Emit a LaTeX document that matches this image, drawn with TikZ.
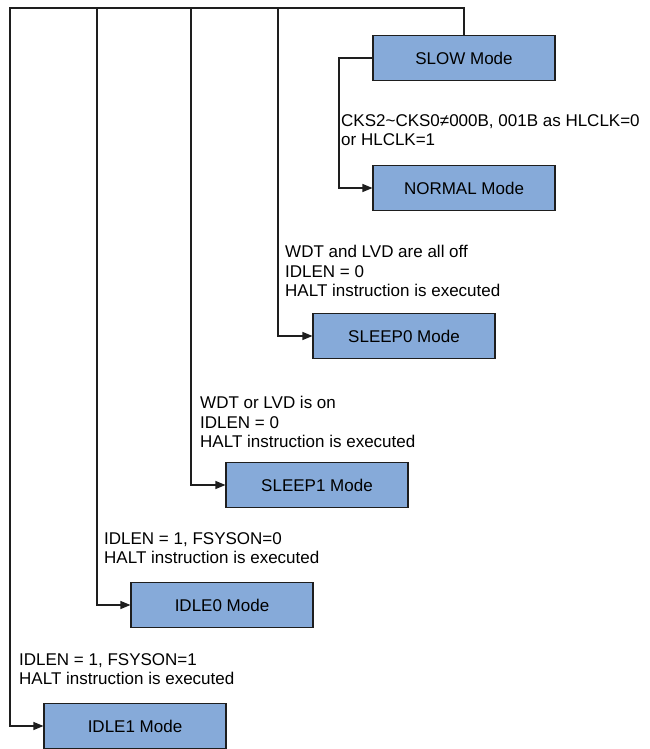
\documentclass[tikz,border=0pt]{standalone}
\usepackage{fontspec}
\setmainfont{Liberation Sans}
\usetikzlibrary{arrows.meta}
\definecolor{boxblue}{RGB}{134,170,217}
\definecolor{edge}{RGB}{30,30,30}
\tikzset{
  modebox/.style={draw=edge, line width=1.1pt, fill=boxblue, minimum width=182pt, minimum height=45pt, inner sep=0pt, font=\fontsize{17}{19.5}\selectfont},
  cond/.style={anchor=north west, inner sep=0pt, align=left, font=\fontsize{17}{19.5}\selectfont},
  wire/.style={draw=edge, line width=1.1pt},
  arr/.style={wire, -{Triangle[length=10pt,width=8pt]}}
}
\begin{document}
\begin{tikzpicture}[x=1pt,y=-1pt]
\useasboundingbox (0,0) rectangle (650,749);
\node[modebox] (slow)   at (464,58)  {SLOW Mode};
\node[modebox] (normal) at (464,188) {NORMAL Mode};
\node[modebox] (sleep0) at (404,336) {SLEEP0 Mode};
\node[modebox] (sleep1) at (317,485) {SLEEP1 Mode};
\node[modebox] (idle0)  at (222,605) {IDLE0 Mode};
\node[modebox] (idle1)  at (135,726) {IDLE1 Mode};

\coordinate (t1) at (10,8);
\coordinate (t2) at (97,8);
\coordinate (t3) at (191,8);
\coordinate (t4) at (278,8);
\coordinate (s1) at (339,58);

\draw[arr] (slow.north) |- (t1) |- (idle1.west);
\draw[arr] (t2) |- (idle0.west);
\draw[arr] (t3) |- (sleep1.west);
\draw[arr] (t4) |- (sleep0.west);
\draw[arr] (slow.west) -- (s1) |- (normal.west);

\node[cond] (c1) at (341,114) {CKS2\textasciitilde CKS0≠000B, 001B as HLCLK=0\\or HLCLK=1};
\node[cond] (c2) at (285,245) {WDT and LVD are all off\\IDLEN = 0\\HALT instruction is executed};
\node[cond] (c3) at (200,396) {WDT or LVD is on\\IDLEN = 0\\HALT instruction is executed};
\node[cond] (c4) at (104,532) {IDLEN = 1, FSYSON=0\\HALT instruction is executed};
\node[cond] (c5) at (19,653) {IDLEN = 1, FSYSON=1\\HALT instruction is executed};
\end{tikzpicture}
\end{document}
